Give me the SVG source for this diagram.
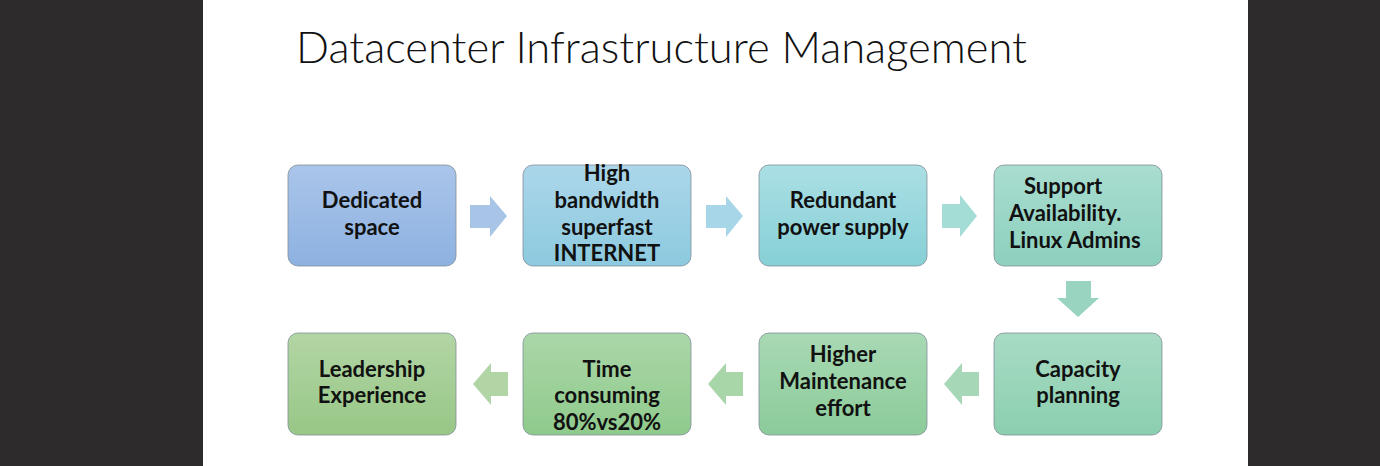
<svg xmlns="http://www.w3.org/2000/svg" width="1380" height="466" viewBox="0 0 1380 466">
<defs>
<linearGradient id="g1" x1="0" y1="0" x2="0" y2="1"><stop offset="0" stop-color="#aac5ea"/><stop offset="1" stop-color="#8db1e1"/></linearGradient>
<linearGradient id="g2" x1="0" y1="0" x2="0" y2="1"><stop offset="0" stop-color="#acd6ea"/><stop offset="1" stop-color="#8ccadf"/></linearGradient>
<linearGradient id="g3" x1="0" y1="0" x2="0" y2="1"><stop offset="0" stop-color="#aadfe4"/><stop offset="1" stop-color="#86d0d6"/></linearGradient>
<linearGradient id="g4" x1="0" y1="0" x2="0" y2="1"><stop offset="0" stop-color="#a9ddd0"/><stop offset="1" stop-color="#8cd0bd"/></linearGradient>
<linearGradient id="g5" x1="0" y1="0" x2="0" y2="1"><stop offset="0" stop-color="#a8dbc4"/><stop offset="1" stop-color="#8bcfaf"/></linearGradient>
<linearGradient id="g6" x1="0" y1="0" x2="0" y2="1"><stop offset="0" stop-color="#a8d9b4"/><stop offset="1" stop-color="#8ccb99"/></linearGradient>
<linearGradient id="g7" x1="0" y1="0" x2="0" y2="1"><stop offset="0" stop-color="#abd7a8"/><stop offset="1" stop-color="#8fca8c"/></linearGradient>
<linearGradient id="g8" x1="0" y1="0" x2="0" y2="1"><stop offset="0" stop-color="#b2d5a4"/><stop offset="1" stop-color="#98c787"/></linearGradient>
</defs>
<style>
.box{stroke:#7f8f98;stroke-width:1;stroke-opacity:0.8}
.lbl{font-family:Lato,"Open Sans","Liberation Sans",sans-serif;font-weight:700;font-size:22px;fill:#111;text-anchor:middle}
.lft{text-anchor:start}
.title{font-family:Lato,"Open Sans","Liberation Sans",sans-serif;font-weight:300;font-size:44px;fill:#111}
</style>
<rect x="0" y="0" width="1380" height="466" fill="#2d2b2b"/>
<rect x="203" y="0" width="1045" height="466" fill="#ffffff"/>
<text class="title" x="296" y="63" textLength="731" lengthAdjust="spacingAndGlyphs">Datacenter Infrastructure Management</text>

<g id="connectors">
<path d="M470,205 H490 V196 L507,216 L490,237 V228 H470 Z" fill="#a8c5e8"/>
<path d="M706,205 H726 V196 L743,216 L726,237 V228 H706 Z" fill="#a6d6e8"/>
<path d="M942,204 H960 V195 L977,216 L960,237 V228 H942 Z" fill="#a4dcd6"/>
<path d="M1066,281 H1091 V298 H1099 L1078,317 L1057,298 H1066 Z" fill="#98d4c0"/>
<path d="M979,372 H962 V363 L944,384 L962,405 V396 H979 Z" fill="#a6d8b8"/>
<path d="M743,372 H726 V363 L708,384 L726,405 V396 H743 Z" fill="#a9d6a9"/>
<path d="M508,372 H491 V363 L473,384 L491,405 V396 H508 Z" fill="#b2d5a6"/>
</g>

<g id="n1"><rect class="box" x="288" y="165" width="168" height="101" rx="10" fill="url(#g1)"/>
<text class="lbl" x="372" y="208">Dedicated</text><text class="lbl" x="372" y="235">space</text></g>
<g id="n2"><rect class="box" x="523" y="165" width="168" height="101" rx="10" fill="url(#g2)"/>
<text class="lbl" x="607" y="181">High</text><text class="lbl" x="607" y="208">bandwidth</text><text class="lbl" x="607" y="235">superfast</text><text class="lbl" x="607" y="261">INTERNET</text></g>
<g id="n3"><rect class="box" x="759" y="165" width="168" height="101" rx="10" fill="url(#g3)"/>
<text class="lbl" x="843" y="208">Redundant</text><text class="lbl" x="843" y="235">power supply</text></g>
<g id="n4"><rect class="box" x="994" y="165" width="168" height="101" rx="10" fill="url(#g4)"/>
<text class="lbl lft" x="1024" y="194">Support</text><text class="lbl lft" x="1009" y="221">Availability.</text><text class="lbl lft" x="1009" y="248">Linux Admins</text></g>
<g id="n5"><rect class="box" x="994" y="333" width="168" height="102" rx="10" fill="url(#g5)"/>
<text class="lbl" x="1078" y="377">Capacity</text><text class="lbl" x="1078" y="403">planning</text></g>
<g id="n6"><rect class="box" x="759" y="333" width="168" height="102" rx="10" fill="url(#g6)"/>
<text class="lbl" x="843" y="362">Higher</text><text class="lbl" x="843" y="389">Maintenance</text><text class="lbl" x="843" y="416">effort</text></g>
<g id="n7"><rect class="box" x="523" y="333" width="168" height="102" rx="10" fill="url(#g7)"/>
<text class="lbl" x="607" y="377">Time</text><text class="lbl" x="607" y="403">consuming</text><text class="lbl" x="607" y="430">80%vs20%</text></g>
<g id="n8"><rect class="box" x="288" y="333" width="168" height="102" rx="10" fill="url(#g8)"/>
<text class="lbl" x="372" y="377">Leadership</text><text class="lbl" x="372" y="403">Experience</text></g>
</svg>
